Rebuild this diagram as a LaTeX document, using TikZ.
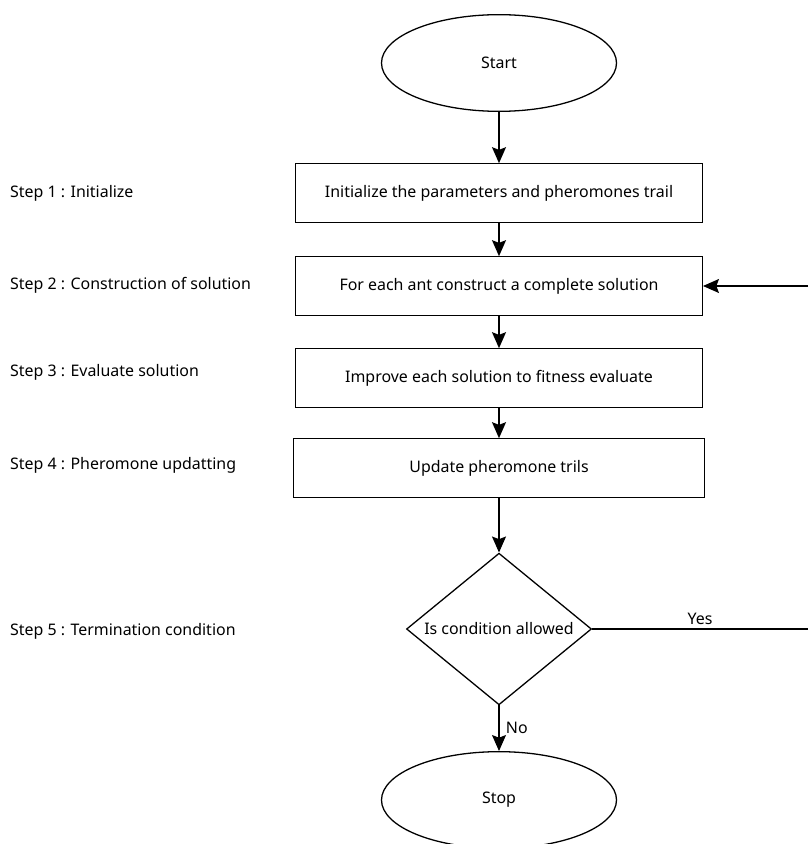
\documentclass[tikz,border=0pt]{standalone}
\usepackage{fontspec}
\setmainfont{Noto Sans}
\usepackage{xcolor}
\usepackage{tikz}
\usetikzlibrary{arrows.meta}
\usetikzlibrary{shapes.geometric}

\begin{document}
\begin{tikzpicture}[x=0.03cm, y=-0.03cm,
        every node/.style={font=\fontsize{13.6}{16}\selectfont},
        stepbox/.style={draw, line width=1.1pt, minimum width=12.2cm, minimum height=1.75cm, align=center},
        term/.style={draw, ellipse, line width=1.1pt, minimum width=7.05cm, minimum height=2.9cm},
        decision/.style={draw, diamond, shape aspect=1.22, line width=1.1pt, minimum width=5.55cm, minimum height=4.55cm, inner sep=0pt},
        steplabel/.style={anchor=west},
        arrow/.style={-{Stealth[length=4.8mm, width=4.2mm, inset=0.8mm]}, line width=1.1pt},
        line/.style={line width=1.1pt}
      ]
        \useasboundingbox (0,0) rectangle (808,844);
        \node[term] (start) at (499,63) {Start};
        \node[stepbox] (init) at (499,193) {Initialize the parameters and pheromones trail};
        \node[stepbox] (build) at (499,286) {For each ant construct a complete solution};
        \node[stepbox] (improve) at (499,378) {Improve each solution to fitness evaluate};
        \node[stepbox, minimum width=12.35cm] (update) at (499,468) {Update pheromone trils};
        \node[decision] (check) at (499,629) {Is condition allowed};
        \node[term] (stop) at (499,800) {Stop};
        % step names on the left
        \node[steplabel] (s1) at (6,193) {Step 1 : Initialize};
        \node[steplabel] (s2) at (6,285) {Step 2 : Construction of solution};
        \node[steplabel] (s3) at (6,372) {Step 3 : Evaluate solution};
        \node[steplabel] (s4) at (6,465) {Step 4 : Pheromone updatting};
        \node[steplabel] (s5) at (6,631) {Step 5 : Termination condition};
        % loop goes out of the frame on the right
        \coordinate (yesout) at (808,629);
        \coordinate (backin) at (808,286);
        \draw[arrow] (start) -- (init);
        \draw[arrow] (init) -- (build);
        \draw[arrow] (build) -- (improve);
        \draw[arrow] (improve) -- (update);
        \draw[arrow] (update) -- (check);
        \draw[arrow] (check) -- node[right, xshift=2pt] {No} (stop);
        \draw[line] (check.east) -- node[above, pos=0.5] {Yes} (yesout);
        \draw[arrow] (backin) -- (build.east);
      \end{tikzpicture}
\end{document}
